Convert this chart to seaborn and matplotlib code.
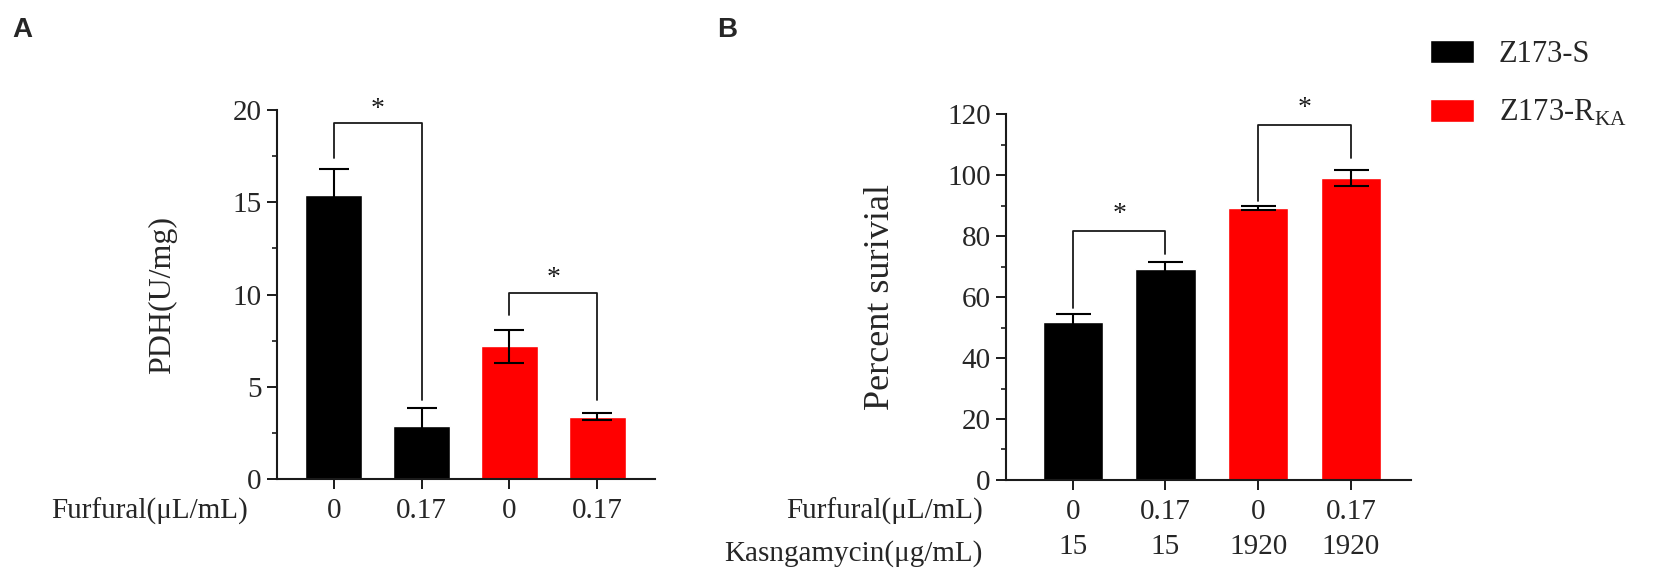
import matplotlib
matplotlib.use("Agg")
import matplotlib.pyplot as plt
import seaborn as sns
import pandas as pd
from matplotlib.ticker import MultipleLocator

sns.set_style("ticks")
plt.rcParams['font.family'] = ['Liberation Serif', 'DejaVu Serif']
plt.rcParams['mathtext.fontset'] = 'custom'
plt.rcParams['mathtext.rm'] = 'Liberation Serif'

# Data
groups = ["S-0", "S-0.17", "R-0", "R-0.17"]
strains = ["Z173-S", "Z173-S", r"Z173-R$_\mathregular{KA}$", r"Z173-R$_\mathregular{KA}$"]
furfural = ["0", "0.17", "0", "0.17"]
kasugamycin = ["15", "15", "1920", "1920"]

pdh = [15.4, 2.85, 7.2, 3.38]
pdh_err = [1.4, 1.0, 0.9, 0.18]

survival = [51.9, 69.2, 89.2, 99.1]
survival_err = [2.5, 2.3, 0.8, 2.6]

# brackets: (left bar, right bar, left foot, top, right foot)
pdh_brackets = [(0, 1, 17.4, 19.3, 4.3), (2, 3, 8.9, 10.1, 4.3)]
survival_brackets = [(0, 1, 56.5, 81.6, 74.0), (2, 3, 91.6, 116.4, 105.5)]

palette = {"Z173-S": "#000000", r"Z173-R$_\mathregular{KA}$": "#ff0000"}

df_a = pd.DataFrame({"group": groups, "strain": strains, "value": pdh})
df_b = pd.DataFrame({"group": groups, "strain": strains, "value": survival})

fig = plt.figure(figsize=(16.58, 5.79), dpi=100)
ax_a = fig.add_axes([0.167, 0.1727, 0.228, 0.637])
ax_b = fig.add_axes([0.6068, 0.171, 0.2443, 0.632])

line_col = "#1a1a1a"


def draw_panel(ax, df, err, brackets, ylim, major, minor, capsize, star_off):
    sns.barplot(data=df, x="group", y="value", hue="strain", order=groups,
                palette=palette, dodge=False, width=0.65, saturation=1,
                errorbar=None, ax=ax, legend=True)
    ax.errorbar(range(len(groups)), df["value"], yerr=err, fmt="none",
                ecolor="#000000", elinewidth=1.5, capsize=capsize, capthick=1.5,
                zorder=3)
    for l, r, yl, top, yr in brackets:
        ax.plot([l, l, r, r], [yl, top, top, yr], color=line_col, lw=1.3,
                clip_on=False, zorder=4)
        ax.text((l + r) / 2, top + star_off, "*", ha="center", va="center",
                fontsize=20, color=line_col)
    ax.set_ylim(*ylim)
    ax.yaxis.set_major_locator(MultipleLocator(major))
    ax.yaxis.set_minor_locator(MultipleLocator(minor))
    sns.despine(ax=ax)
    for s in ["left", "bottom"]:
        ax.spines[s].set_linewidth(1.5)
        ax.spines[s].set_color(line_col)
    ax.tick_params(axis="both", which="major", length=7, width=1.4,
                   color=line_col, labelsize=21, pad=4)
    ax.tick_params(axis="y", which="minor", length=3.5, width=1.2, color=line_col)
    ax.tick_params(axis="x", pad=7)
    ax.set_xlabel("")


draw_panel(ax_a, df_a, pdh_err, pdh_brackets, (0, 20), 5, 2.5, 10.8, 0.75)
ax_a.set_xlim(-0.65, 3.66)
ax_a.set_xticks(range(4))
ax_a.set_xticklabels(furfural)
ax_a.set_ylabel("PDH(U/mg)", fontsize=23)
ax_a.yaxis.set_label_coords(-0.265, 0.5)
ax_a.get_legend().remove()

draw_panel(ax_b, df_b, survival_err, survival_brackets, (0, 120), 20, 10, 12.6, 5.5)
ax_b.set_xlim(-0.72, 3.65)
ax_b.set_xticks(range(4))
ax_b.set_xticklabels([f"{f}\n{k}" for f, k in zip(furfural, kasugamycin)])
for t in ax_b.get_xticklabels():
    t.set_linespacing(1.45)
ax_b.set_ylabel("Percent surivial", fontsize=26)
ax_b.yaxis.set_label_coords(-0.27, 0.5)

handles, labels = ax_b.get_legend_handles_labels()
ax_b.get_legend().remove()
fig.legend(handles, labels, loc="upper left", bbox_to_anchor=(1430 / 1658, 1 - 40 / 579),
           frameon=False, fontsize=22, handlelength=1.45, handleheight=0.75,
           labelspacing=0.95, handletextpad=0.8, borderaxespad=0, borderpad=0)

# row labels for the x-axis conditions
fig.text(248 / 1658, 1 - 511 / 579, "Furfural(μL/mL)", ha="right", va="center", fontsize=21)
fig.text(983 / 1658, 1 - 511 / 579, "Furfural(μL/mL)", ha="right", va="center", fontsize=21)
fig.text(983 / 1658, 1 - 554 / 579, "Kasngamycin(μg/mL)", ha="right", va="center", fontsize=21)

# panel letters
fig.text(12 / 1658, 1 - 30 / 579, "A", ha="left", va="center", fontsize=20,
         fontweight="bold", family="Liberation Sans")
fig.text(717 / 1658, 1 - 30 / 579, "B", ha="left", va="center", fontsize=20,
         fontweight="bold", family="Liberation Sans")

fig.savefig("out.png", dpi=100)
